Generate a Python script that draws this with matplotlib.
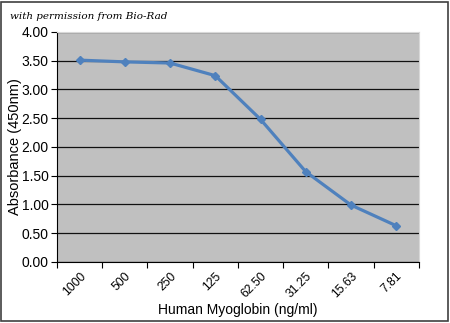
import numpy as np
import matplotlib.pyplot as plt
from matplotlib.patches import Rectangle

concentrations = ['1000', '500', '250', '125', '62.50', '31.25', '15.63', '7.81']
absorbance = [3.51, 3.48, 3.46, 3.24, 2.48, 1.57, 0.99, 0.63]
y_ticks = [0.0, 0.5, 1.0, 1.5, 2.0, 2.5, 3.0, 3.5, 4.0]

plt.rcParams['font.family'] = ['Liberation Sans', 'DejaVu Sans']

fig = plt.figure(figsize=(4.5, 3.23), dpi=100)
ax = fig.add_axes([0.1267, 0.189, 0.804, 0.712])
ax.set_facecolor('#c0c0c0')

x = np.arange(len(concentrations))
ax.plot(x, absorbance, color='#4f81bd', linewidth=2.3, marker='D',
        markersize=4, markerfacecolor='#4f81bd', markeredgecolor='#4f81bd', zorder=3)

ax.set_xlim(-0.5, len(concentrations) - 0.5)
ax.set_ylim(0, 4)
ax.set_yticks(y_ticks)
ax.set_yticklabels([f'{v:.2f}' for v in y_ticks], fontsize=10)
ax.yaxis.grid(True, color='#111111', linewidth=0.9)
ax.set_axisbelow(True)

# labels at category centres, tick marks at the boundaries
ax.set_xticks(x)
ax.set_xticklabels(concentrations, rotation=45, ha='right', va='top',
                   rotation_mode='anchor', fontsize=8.7)
ax.set_xticks(np.arange(-0.5, len(concentrations)), minor=True)
ax.tick_params(axis='x', which='major', length=0, pad=6)
ax.tick_params(axis='x', which='minor', length=4, width=0.8, direction='out')
ax.tick_params(axis='y', length=4, width=0.8, direction='out', pad=2)

for side in ('top', 'right'):
    ax.spines[side].set_color('#d8d8d8')
    ax.spines[side].set_linewidth(0.8)
ax.spines['left'].set_color('black')
ax.spines['bottom'].set_color('black')

ax.set_ylabel('Absorbance (450nm)', fontsize=10.5, labelpad=0)
ax.set_xlabel('Human Myoglobin (ng/ml)', fontsize=10, labelpad=2)

fig.text(0.022, 0.95, 'with permission from Bio-Rad', fontsize=7.5,
         family='DejaVu Serif', style='italic', va='center')

# outer frame
fig.patches.append(Rectangle((0.003, 0.006), 0.992, 0.989, transform=fig.transFigure,
                             fill=False, edgecolor='#404040', linewidth=1.2))

fig.savefig('out.png', dpi=100)
